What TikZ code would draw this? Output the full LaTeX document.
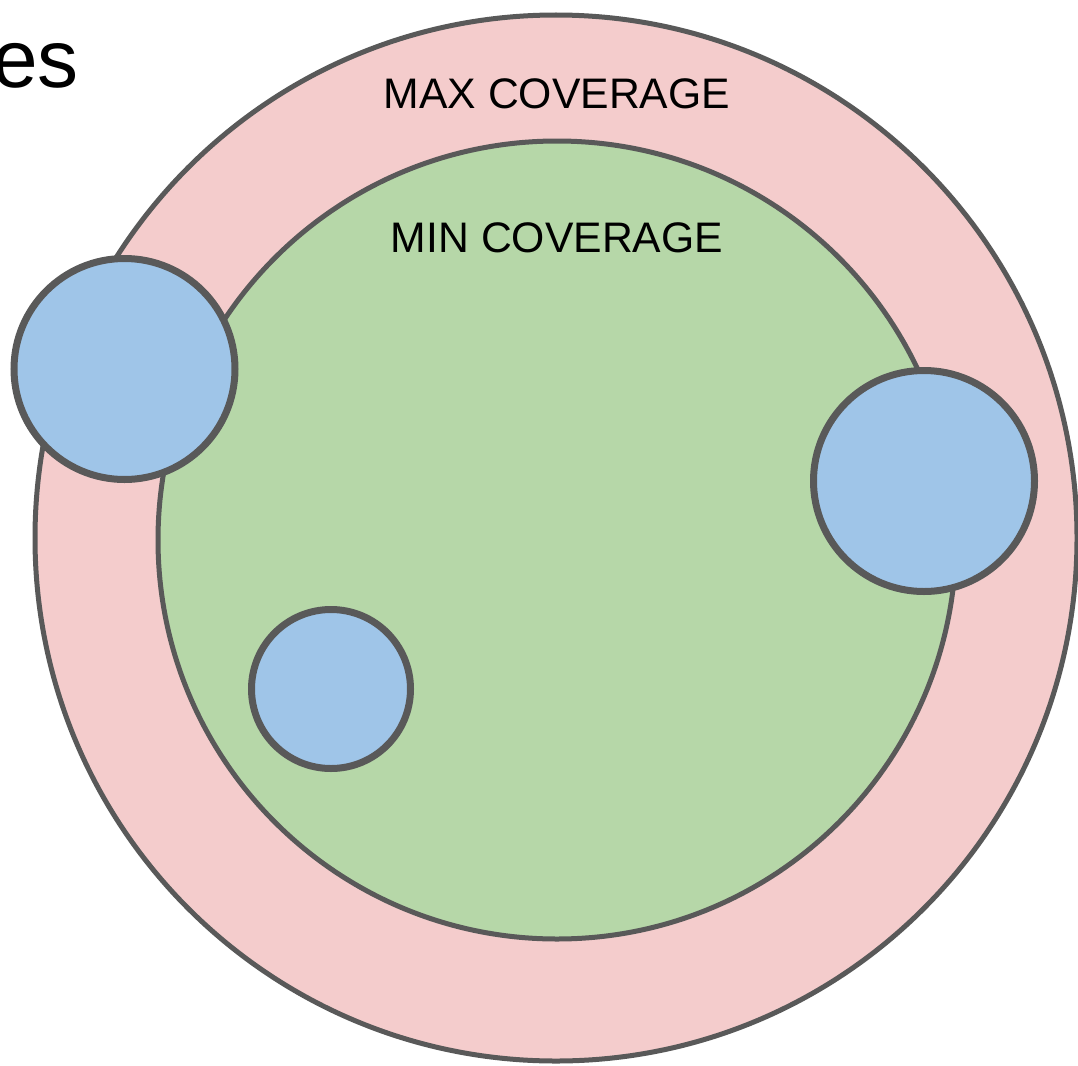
\documentclass[tikz,border=0pt]{standalone}
\usepackage{fontspec}
\setmainfont{Liberation Sans}
\definecolor{pinkfill}{HTML}{F4CCCC}
\definecolor{greenfill}{HTML}{B6D7A8}
\definecolor{bluefill}{HTML}{9FC5E8}
\definecolor{edgegray}{HTML}{595959}
\tikzset{
  zone/.style={draw=edgegray, line width=5pt},
  dot/.style={draw=edgegray, fill=bluefill, line width=7pt},
  label/.style={inner sep=0pt, font=\fontsize{42.7}{50}\selectfont, anchor=base}
}
\begin{document}
\begin{tikzpicture}[x=1pt,y=-1pt]
\useasboundingbox (0,0) rectangle (1078,1065);
\fill[white] (0,0) rectangle (1078,1065);
\draw[zone, fill=pinkfill] (556,538) ellipse [x radius=521pt, y radius=523pt];
\draw[zone, fill=greenfill] (557,540) circle [radius=399pt];
\draw[dot] (124.5,369) circle [radius=110.5pt];
\draw[dot] (924,481) circle [radius=110.5pt];
\draw[dot] (331,689) circle [radius=79.5pt];
\node[label] (maxc) at (557,108) {MAX COVERAGE};
\node[label] (minc) at (557,252) {MIN COVERAGE};
\node[inner sep=0pt, font=\fontsize{82}{90}\selectfont, anchor=base east] (es) at (79,87) {es};
\end{tikzpicture}
\end{document}
